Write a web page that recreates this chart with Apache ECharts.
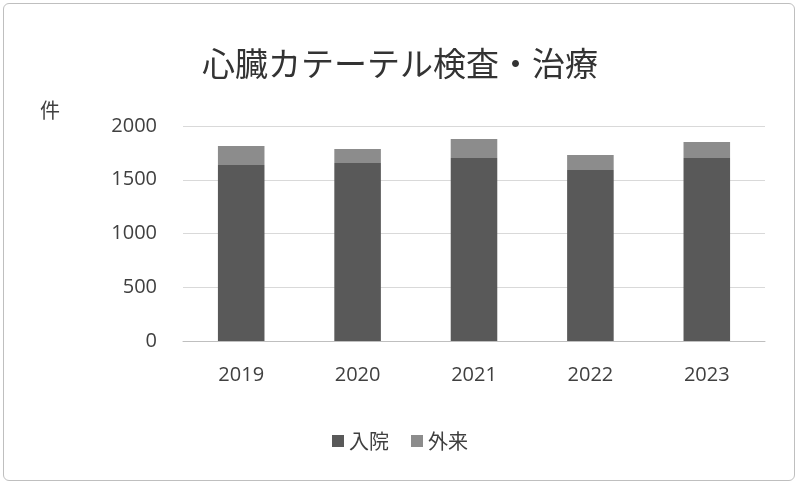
<!DOCTYPE html>
<html><head><meta charset="utf-8">
<script src="https://cdn.jsdelivr.net/npm/echarts@6/dist/echarts.min.js"></script>
<style>html,body{margin:0;padding:0;background:#fff}
#frame{position:absolute;left:3px;top:3px;width:792px;height:478px;border:1px solid #bfbfbf;border-radius:6px;box-sizing:border-box}
#c{position:absolute;left:0;top:0;width:800px;height:486px}</style>
</head><body><div id="frame"></div><div id="c"></div>
<script>
const categories = ['2019','2020','2021','2022','2023'];
const inpatient = [1637,1656,1702,1591,1702];
const outpatient = [177,130,177,139,149];
const yTicks = [0,500,1000,1500,2000];
const chart = echarts.init(document.getElementById('c'));
const font = '"Noto Sans CJK JP", sans-serif';
chart.setOption({
  animation:false,
  textStyle:{fontFamily:font},
  title:{text:'心臓カテーテル検査・治療',left:'center',top:42,textStyle:{fontSize:33,fontWeight:'normal',color:'#333',fontFamily:font}},
  graphic:[{type:'text',left:40,top:100,style:{text:'件',fontSize:20,fill:'#404040',fontFamily:font}}],
  legend:{bottom:30,left:'center',itemWidth:12,itemHeight:12,itemGap:22,icon:'rect',textStyle:{fontSize:20,color:'#404040'},data:['入院','外来']},
  grid:{left:183,right:35,top:126,bottom:145},
  xAxis:{type:'category',data:categories,axisLine:{lineStyle:{color:'#bfbfbf'}},axisTick:{show:false},axisLabel:{fontSize:20,color:'#404040',margin:24,fontFamily:'"Open Sans", sans-serif'}},
  yAxis:{type:'value',min:yTicks[0],max:yTicks[yTicks.length-1],interval:500,
    axisLabel:{fontSize:20,color:'#404040',margin:26,fontFamily:'"Open Sans", sans-serif',formatter:v=>String(v)},splitLine:{lineStyle:{color:'#d9d9d9'}},axisLine:{show:false},axisTick:{show:false}},
  series:[
    {name:'入院',type:'bar',stack:'a',barWidth:'40%',data:inpatient,itemStyle:{color:'#595959'}},
    {name:'外来',type:'bar',stack:'a',barWidth:'40%',data:outpatient,itemStyle:{color:'#8c8c8c'}}
  ]
});
</script></body></html>
